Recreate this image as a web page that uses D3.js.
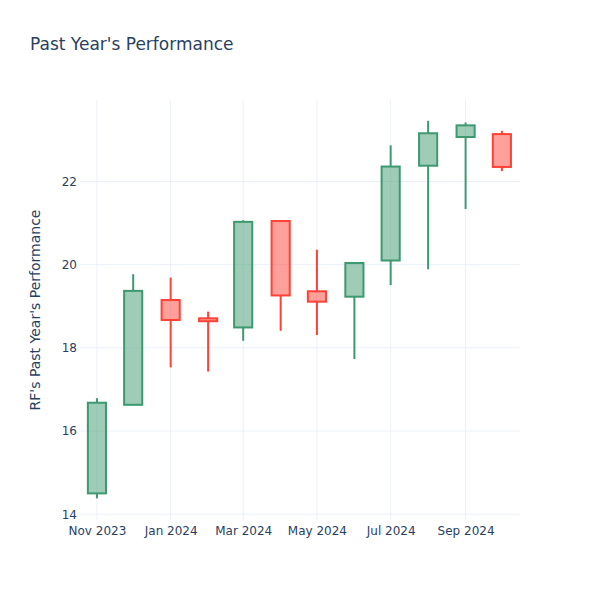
<!DOCTYPE html>
<html><head><meta charset="utf-8">
<script src="https://cdn.jsdelivr.net/npm/d3@7"></script>
<style>body{margin:0;background:#fff;}svg{display:block;font-family:"DejaVu Sans",verdana,arial,sans-serif;}</style>
</head><body><svg id="c" width="600" height="600"></svg>
<script>
const dates = ["2023-11-01","2023-12-01","2024-01-01","2024-02-01","2024-03-01","2024-04-01","2024-05-01","2024-06-01","2024-07-01","2024-08-01","2024-09-01","2024-10-01"];
const open  = [14.50, 16.63, 19.15, 18.71, 18.49, 21.05, 19.36, 19.23, 20.10, 22.38, 23.07, 23.14];
const high  = [16.79, 19.77, 19.69, 18.87, 21.07, 21.05, 20.36, 20.04, 22.87, 23.46, 23.42, 23.22];
const low   = [14.38, 16.62, 17.53, 17.43, 18.17, 18.41, 18.31, 17.73, 19.51, 19.89, 21.34, 22.25];
const close = [16.68, 19.37, 18.67, 18.64, 21.03, 19.26, 19.11, 20.04, 22.36, 23.16, 23.35, 22.35];
const yTicks = [14, 16, 18, 20, 22];
const xTicks = ["2023-11-01","2024-01-01","2024-03-01","2024-05-01","2024-07-01","2024-09-01"];
const title = "Past Year's Performance";
const yTitle = "RF's Past Year's Performance";

const parse = d3.utcParse("%Y-%m-%d");
const L = 80, R = 520, T = 100, B = 520;
const FONT = "\"DejaVu Sans\",verdana,arial,sans-serif";
const svg = d3.select("#c");
const x = d3.scaleUtc().domain([parse("2023-10-18"), parse("2024-10-16")]).range([L, R]);
const y = d3.scaleLinear().domain([13.86, 23.96]).range([B, T]);
const grid = "#EBF0F8", txt = "#2a3f5f";

// grid
svg.append("g").selectAll("line").data(yTicks).join("line")
  .attr("x1", L).attr("x2", R).attr("y1", d => y(d)).attr("y2", d => y(d))
  .attr("stroke", grid).attr("stroke-width", 1);
svg.append("g").selectAll("line").data(xTicks).join("line")
  .attr("x1", d => x(parse(d))).attr("x2", d => x(parse(d))).attr("y1", T).attr("y2", B)
  .attr("stroke", grid).attr("stroke-width", 1);

// axes
const fmt = d3.utcFormat("%b %Y");
const xAxis = d3.axisBottom(x).tickValues(xTicks.map(parse)).tickFormat(fmt).tickSize(0).tickPadding(6);
const gx = svg.append("g").attr("transform", `translate(0,${B})`).call(xAxis);
gx.select(".domain").remove();
gx.selectAll("text").attr("font-size", 12).attr("fill", txt).attr("font-family", FONT);

const yAxis = d3.axisLeft(y).tickValues(yTicks).tickSize(0).tickPadding(3);
const gy = svg.append("g").attr("transform", `translate(${L},0)`).call(yAxis);
gy.select(".domain").remove();
gy.selectAll("text").attr("font-size", 12).attr("fill", txt).attr("font-family", FONT);

// candles
const data = dates.map((d, i) => ({date: parse(d), o: open[i], h: high[i], l: low[i], c: close[i]}));
const halfW = (x(parse("2023-12-01")) - x(parse("2023-11-01"))) * 0.25;
const g = svg.append("g");
data.forEach(d => {
  const up = d.c >= d.o;
  const line = up ? "#3D9970" : "#FF4136";
  const fill = up ? "rgba(61,153,112,0.5)" : "rgba(255,65,54,0.5)";
  const cx = x(d.date);
  const top = y(Math.max(d.o, d.c)), bot = y(Math.min(d.o, d.c));
  g.append("line").attr("x1", cx).attr("x2", cx).attr("y1", y(d.h)).attr("y2", top)
    .attr("stroke", line).attr("stroke-width", 2);
  g.append("line").attr("x1", cx).attr("x2", cx).attr("y1", bot).attr("y2", y(d.l))
    .attr("stroke", line).attr("stroke-width", 2);
  g.append("rect").attr("x", cx - halfW).attr("y", top).attr("width", halfW * 2)
    .attr("height", Math.max(bot - top, 0.5)).attr("fill", fill).attr("stroke", line).attr("stroke-width", 2);
});

// titles
svg.append("text").attr("x", 30).attr("y", 50).attr("font-size", 17).attr("fill", txt).text(title);
svg.append("text").attr("transform", `translate(40,${(T + B) / 2}) rotate(-90)`)
  .attr("text-anchor", "middle").attr("font-size", 14).attr("fill", txt).text(yTitle);
</script></body></html>
